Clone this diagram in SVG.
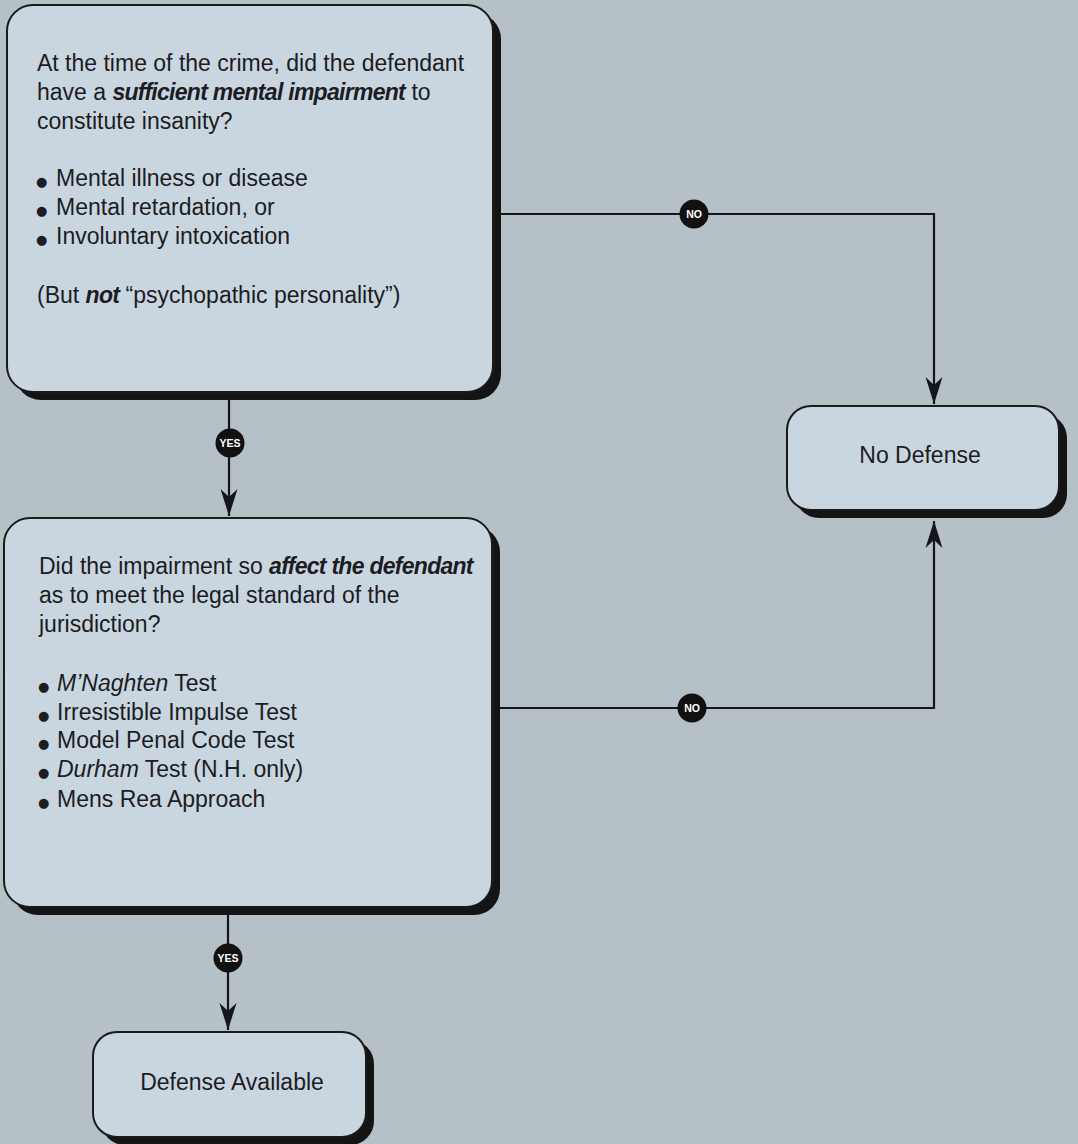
<svg xmlns="http://www.w3.org/2000/svg" width="1078" height="1144" viewBox="0 0 1078 1144">
<style>
.bg{fill:#b5c1c7}
.shadow{fill:#141414}
.box{fill:#c9d6e0;stroke:#1a1a1a;stroke-width:2}
.t{font-family:"Liberation Sans",Arial,sans-serif;font-size:23px;fill:#1c1c22}
.b{font-family:"DejaVu Sans",sans-serif;font-size:13px}
.bi{font-weight:bold;font-style:italic;letter-spacing:-0.72px}
.i{font-style:italic}
.conn{fill:none;stroke:#15151c;stroke-width:2.2}
.lab{fill:#111}
.labt{font-family:"Liberation Sans",Arial,sans-serif;font-size:10.5px;font-weight:bold;fill:#fff;text-anchor:middle}
</style>
<defs>
<marker id="arr" markerUnits="userSpaceOnUse" viewBox="-28 -9 29 18" refX="0" refY="0" markerWidth="29" markerHeight="18" orient="auto">
<path d="M0,0 L-27,-8.5 L-19,0 L-27,8.5 Z" fill="#15151c"/>
</marker>
</defs>
<rect class="bg" x="0" y="0" width="1078" height="1144"/>

<g id="connectors">
<path class="conn" d="M229,400 V516" marker-end="url(#arr)"/>
<path class="conn" d="M500,214 H934 V404" marker-end="url(#arr)"/>
<path class="conn" d="M500,708 H934 V521" marker-end="url(#arr)"/>
<path class="conn" d="M228,915 V1030" marker-end="url(#arr)"/>
<circle class="lab" cx="230" cy="443" r="14.5"/>
<text class="labt" x="230" y="447">YES</text>
<circle class="lab" cx="694" cy="214" r="14.5"/>
<text class="labt" x="694" y="218">NO</text>
<circle class="lab" cx="692" cy="708" r="14.5"/>
<text class="labt" x="692" y="712">NO</text>
<circle class="lab" cx="228" cy="958" r="14.5"/>
<text class="labt" x="228" y="962">YES</text>
</g>

<g id="node-impairment">
<rect class="shadow" x="15" y="13" width="486" height="387" rx="26"/>
<rect class="box" x="7" y="5" width="486" height="387" rx="26"/>
<text class="t" x="37" y="71">At the time of the crime, did the defendant</text>
<text class="t" x="37" y="100">have a <tspan class="bi">sufficient mental impairment</tspan> to</text>
<text class="t" x="37" y="129">constitute insanity?</text>
<text class="t" x="36" y="186"><tspan class="b">●</tspan><tspan x="56">Mental illness or disease</tspan></text>
<text class="t" x="36" y="215"><tspan class="b">●</tspan><tspan x="56">Mental retardation, or</tspan></text>
<text class="t" x="36" y="244"><tspan class="b">●</tspan><tspan x="56">Involuntary intoxication</tspan></text>
<text class="t" x="37" y="303">(But <tspan class="bi">not</tspan> “psychopathic personality”)</text>
</g>

<g id="node-affect">
<rect class="shadow" x="12" y="526" width="488" height="389" rx="26"/>
<rect class="box" x="4" y="518" width="488" height="389" rx="26"/>
<text class="t" x="39" y="574">Did the impairment so <tspan class="bi">affect the defendant</tspan></text>
<text class="t" x="39" y="603">as to meet the legal standard of the</text>
<text class="t" x="39" y="632">jurisdiction?</text>
<text class="t" x="38" y="691"><tspan class="b">●</tspan><tspan x="57"><tspan class="i">M’Naghten</tspan> Test</tspan></text>
<text class="t" x="38" y="720"><tspan class="b">●</tspan><tspan x="57">Irresistible Impulse Test</tspan></text>
<text class="t" x="38" y="748"><tspan class="b">●</tspan><tspan x="57">Model Penal Code Test</tspan></text>
<text class="t" x="38" y="777"><tspan class="b">●</tspan><tspan x="57"><tspan class="i">Durham</tspan> Test (N.H. only)</tspan></text>
<text class="t" x="38" y="807"><tspan class="b">●</tspan><tspan x="57">Mens Rea Approach</tspan></text>
</g>

<g id="node-nodefense">
<rect class="shadow" x="795" y="414" width="272" height="104" rx="24"/>
<rect class="box" x="787" y="406" width="272" height="104" rx="24"/>
<text class="t" x="920" y="463" text-anchor="middle">No Defense</text>
</g>

<g id="node-defense">
<rect class="shadow" x="101" y="1040" width="273" height="105" rx="24"/>
<rect class="box" x="93" y="1032" width="273" height="105" rx="24"/>
<text class="t" x="232" y="1090" text-anchor="middle">Defense Available</text>
</g>
</svg>
